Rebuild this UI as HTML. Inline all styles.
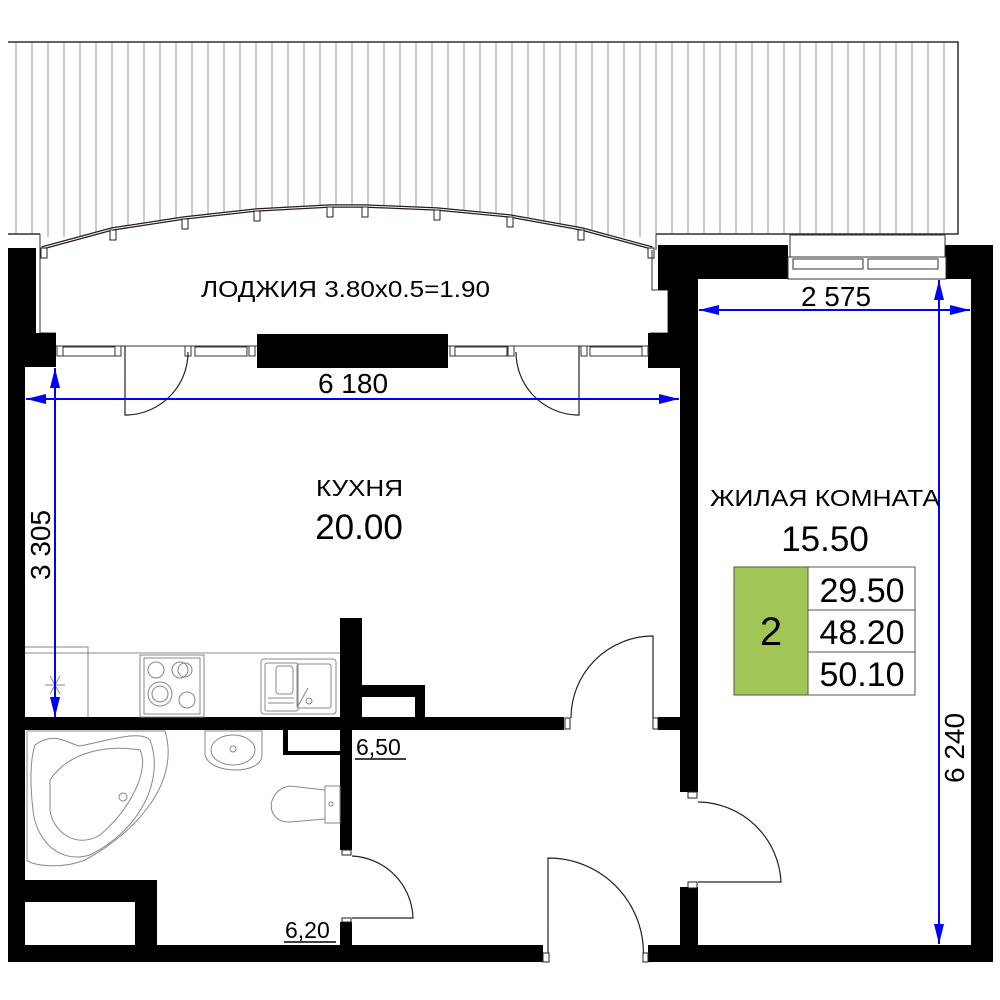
<!DOCTYPE html>
<html><head><meta charset="utf-8"><style>
html,body{margin:0;padding:0;background:#fff}
svg{display:block}
text{font-family:"Liberation Sans",sans-serif;fill:#000}
</style></head><body>
<svg width="1000" height="1000" viewBox="0 0 1000 1000" xmlns="http://www.w3.org/2000/svg">
<defs>
<pattern id="hatch" x="8" y="0" width="16" height="10" patternUnits="userSpaceOnUse">
<line x1="8" y1="0" x2="8" y2="10" stroke="#999" stroke-width="1"/>
</pattern>
<clipPath id="hc">
<path d="M8,42 H958 V234 H656 V248 L652,248 L582,229 L510,216 L437,209 L365,206 L330,206 L256,210 L184,218 L112,229 L42,248 V234 H8 Z"/>
</clipPath>
<marker id="ar" viewBox="0 0 20 10" refX="20" refY="5" markerWidth="20" markerHeight="10" markerUnits="userSpaceOnUse" orient="auto-start-reverse">
<path d="M0,0 L20,5 L0,10 Z" fill="#0000ff"/>
</marker>
</defs>

<rect x="8" y="42" width="950" height="195" fill="url(#hatch)" clip-path="url(#hc)"/>
<path d="M8,42 H958 V234 H656 M40,234 H8" fill="none" stroke="#3a2a2a" stroke-width="1.5"/>
<path d="M40,234 V248 M656,234 V250" stroke="#333" stroke-width="1" fill="none"/>
<polyline points="42,248 112,229 184,218 256,210 330,206 365,206 437,209 510,216 582,229 652,248" fill="none" stroke="#2a1a1a" stroke-width="3.5"/>
<polyline points="42,248 112,229 184,218 256,210 330,206 365,206 437,209 510,216 582,229 652,248" fill="none" stroke="#fff" stroke-width="1"/>
<g fill="#fff" stroke="#222" stroke-width="1">
<rect x="41" y="248" width="6" height="10"/><rect x="110" y="230" width="6" height="10"/><rect x="182" y="219" width="6" height="10"/><rect x="254" y="211" width="6" height="10"/><rect x="327" y="207" width="6" height="10"/><rect x="362" y="207" width="6" height="10"/><rect x="434" y="210" width="6" height="10"/><rect x="507" y="217" width="6" height="10"/><rect x="578" y="230" width="6" height="10"/><rect x="648" y="248" width="6" height="10"/>
</g>

<path d="M40,248 V333 H56 M652,250 V290 H668 V333 H650" fill="none" stroke="#333" stroke-width="1"/>
<line x1="56" y1="346" x2="650" y2="346" stroke="#333" stroke-width="1"/>

<g fill="#000">
<path d="M8,248 H36 V333 H56 V367 H25 V945 H8 Z"/>
<rect x="8" y="945" width="535" height="17"/>
<rect x="648" y="945" width="345" height="17"/>
<rect x="971" y="245" width="22" height="717"/>
<path d="M658,248 V290 H668 V333 H648 V368 H680 V792 H698 V279 H788 V245 H658 Z"/>
<rect x="945" y="245" width="30" height="34"/>
<rect x="680" y="887" width="18" height="58"/>
<rect x="257" y="334" width="191" height="34"/>
<rect x="25" y="717" width="539" height="13"/>
<rect x="658" y="717" width="22" height="13"/>
<rect x="340" y="618" width="22" height="100"/>
<rect x="340" y="730" width="12" height="120"/>
<rect x="340" y="922" width="12" height="23"/>
<rect x="362" y="685" width="63" height="12"/>
<rect x="415" y="685" width="10" height="32"/>
<rect x="283" y="730" width="5" height="25"/>
<rect x="283" y="751" width="57" height="4"/>
<rect x="25" y="880" width="132" height="22"/>
<rect x="135" y="880" width="22" height="65"/>
</g>

<rect x="790" y="235" width="155" height="22" fill="#fff" stroke="#333" stroke-width="1"/>
<rect x="788" y="257" width="158" height="22" fill="#fff" stroke="#333" stroke-width="1"/>
<g fill="#fff" stroke="#333" stroke-width="1">
<rect x="793" y="259" width="70" height="10"/><rect x="868" y="259" width="70" height="10"/>
</g>

<g fill="#fff" stroke="#333" stroke-width="1">
<rect x="57" y="346" width="6" height="10"/><rect x="63" y="347" width="52" height="9"/><rect x="115" y="346" width="6" height="10"/>
<rect x="185" y="346" width="6" height="10"/><rect x="195" y="347" width="52" height="9"/><rect x="249" y="346" width="6" height="10"/>
<rect x="450" y="346" width="6" height="10"/><rect x="455" y="347" width="52" height="9"/><rect x="508" y="346" width="6" height="10"/>
<rect x="581" y="346" width="6" height="10"/><rect x="590" y="347" width="52" height="9"/><rect x="642" y="346" width="6" height="10"/>
</g>

<g fill="none" stroke="#222" stroke-width="1.2">
<path d="M125,346 V415 H128 A63,63 0 0 0 188,352"/>
<path d="M579,346 V415 H576 A63,63 0 0 1 516,352"/>
<path d="M653,718 V636 A82,82 0 0 0 571,718"/>
<path d="M698,802 A84,84 0 0 1 781,882 H698"/>
<path d="M548,962 V858 A95,95 0 0 1 643,962"/>
<path d="M352,856 A64,64 0 0 1 413,918 H352"/>
</g>
<g fill="#fff" stroke="#222" stroke-width="1">
<rect x="565" y="718" width="5" height="11"/><rect x="653" y="718" width="5" height="11"/>
<rect x="688" y="792" width="9" height="6"/><rect x="688" y="882" width="9" height="6"/>
<rect x="543" y="953" width="6" height="9"/><rect x="643" y="953" width="5" height="9"/>
<rect x="342" y="850" width="9" height="5"/><rect x="342" y="918" width="9" height="4"/>
</g>

<g fill="none" stroke="#888" stroke-width="1">
<path d="M25,647 H88 V653 M25,653 H340"/>
<line x1="88" y1="653" x2="88" y2="717"/>
<rect x="140" y="655" width="64" height="62"/>
<rect x="144" y="658" width="56" height="56"/>
<circle cx="156" cy="670" r="8"/><circle cx="180" cy="670" r="8"/><circle cx="185" cy="670" r="7"/>
<circle cx="160" cy="694" r="12"/><circle cx="160" cy="694" r="8"/><circle cx="187" cy="700" r="8"/>
<rect x="261" y="659" width="75" height="55" rx="3"/>
<rect x="265" y="663" width="33" height="48" rx="2"/>
<rect x="297" y="664" width="34" height="44" rx="2"/>
<rect x="276" y="666" width="17" height="28" rx="3"/>
<line x1="268" y1="698" x2="294" y2="698"/><line x1="268" y1="703" x2="294" y2="703"/>
<line x1="298" y1="706" x2="308" y2="688"/><circle cx="309" cy="701" r="3"/>
<g transform="translate(55,685)">
<line x1="-10" y1="0" x2="10" y2="0"/><line x1="-5" y1="-9" x2="5" y2="9"/><line x1="-5" y1="9" x2="5" y2="-9"/>
</g>
</g>

<g fill="none" stroke="#888" stroke-width="1">
<path d="M27,731 H165 C180,780 140,830 85,860 C60,870 30,865 27,860 Z"/>
<path d="M35,745 C55,730 70,745 80,746 C110,740 140,730 150,740 C165,780 140,830 90,855 C55,865 35,835 33,810 C30,785 30,760 35,745 Z"/>
<path d="M50,780 C70,750 110,745 140,750 C150,770 130,810 100,835 C75,850 52,830 50,810 Z"/>
<circle cx="123" cy="797" r="4"/>
<path d="M205,731 H262 V755 C262,775 210,775 205,755 Z"/>
<ellipse cx="233" cy="750" rx="22" ry="15"/>
<circle cx="233" cy="749" r="3"/>
<path d="M325,786 H340 V823 H325 Z"/>
<path d="M325,790 L290,786 C265,790 265,823 290,822 L325,819"/>
<circle cx="331" cy="804" r="2"/>
</g>

<rect x="734" y="567" width="74" height="128" fill="#a1c655" stroke="#555" stroke-width="1"/>
<rect x="808" y="567" width="107" height="128" fill="#fff" stroke="#555" stroke-width="1"/>
<line x1="808" y1="610" x2="915" y2="610" stroke="#555"/>
<line x1="808" y1="652" x2="915" y2="652" stroke="#555"/>
<text x="771" y="645" font-size="40" text-anchor="middle">2</text>
<text x="862" y="602" font-size="34" text-anchor="middle">29.50</text>
<text x="862" y="644" font-size="34" text-anchor="middle">48.20</text>
<text x="862" y="686" font-size="34" text-anchor="middle">50.10</text>

<g stroke="#0000ff" stroke-width="2" fill="none">
<line x1="26" y1="399" x2="679" y2="399" marker-start="url(#ar)" marker-end="url(#ar)"/>
<line x1="55" y1="368" x2="55" y2="717" marker-start="url(#ar)" marker-end="url(#ar)"/>
<line x1="699" y1="310" x2="970" y2="310" marker-start="url(#ar)" marker-end="url(#ar)"/>
<line x1="939" y1="280" x2="939" y2="944" marker-start="url(#ar)" marker-end="url(#ar)"/>
</g>

<text x="201" y="297" font-size="23" textLength="289" lengthAdjust="spacingAndGlyphs">ЛОДЖИЯ 3.80x0.5=1.90</text>
<text x="353" y="393" font-size="28" text-anchor="middle">6 180</text>
<text x="316" y="496" font-size="23" textLength="87" lengthAdjust="spacingAndGlyphs">КУХНЯ</text>
<text x="359" y="539" font-size="35" text-anchor="middle">20.00</text>
<text x="710" y="506" font-size="23" textLength="230" lengthAdjust="spacingAndGlyphs">ЖИЛАЯ КОМНАТА</text>
<text x="825" y="551" font-size="35" text-anchor="middle">15.50</text>
<text x="836" y="306" font-size="28" text-anchor="middle">2 575</text>
<text transform="translate(50,545) rotate(-90)" font-size="28" text-anchor="middle">3 305</text>
<text transform="translate(964,748) rotate(-90)" font-size="28" text-anchor="middle">6 240</text>
<text x="356" y="755" font-size="23">6,50</text>
<line x1="355" y1="759" x2="406" y2="759" stroke="#000" stroke-width="1.5"/>
<text x="285" y="938" font-size="23">6,20</text>
<line x1="284" y1="942" x2="336" y2="942" stroke="#000" stroke-width="1.5"/>
</svg>
</body></html>
